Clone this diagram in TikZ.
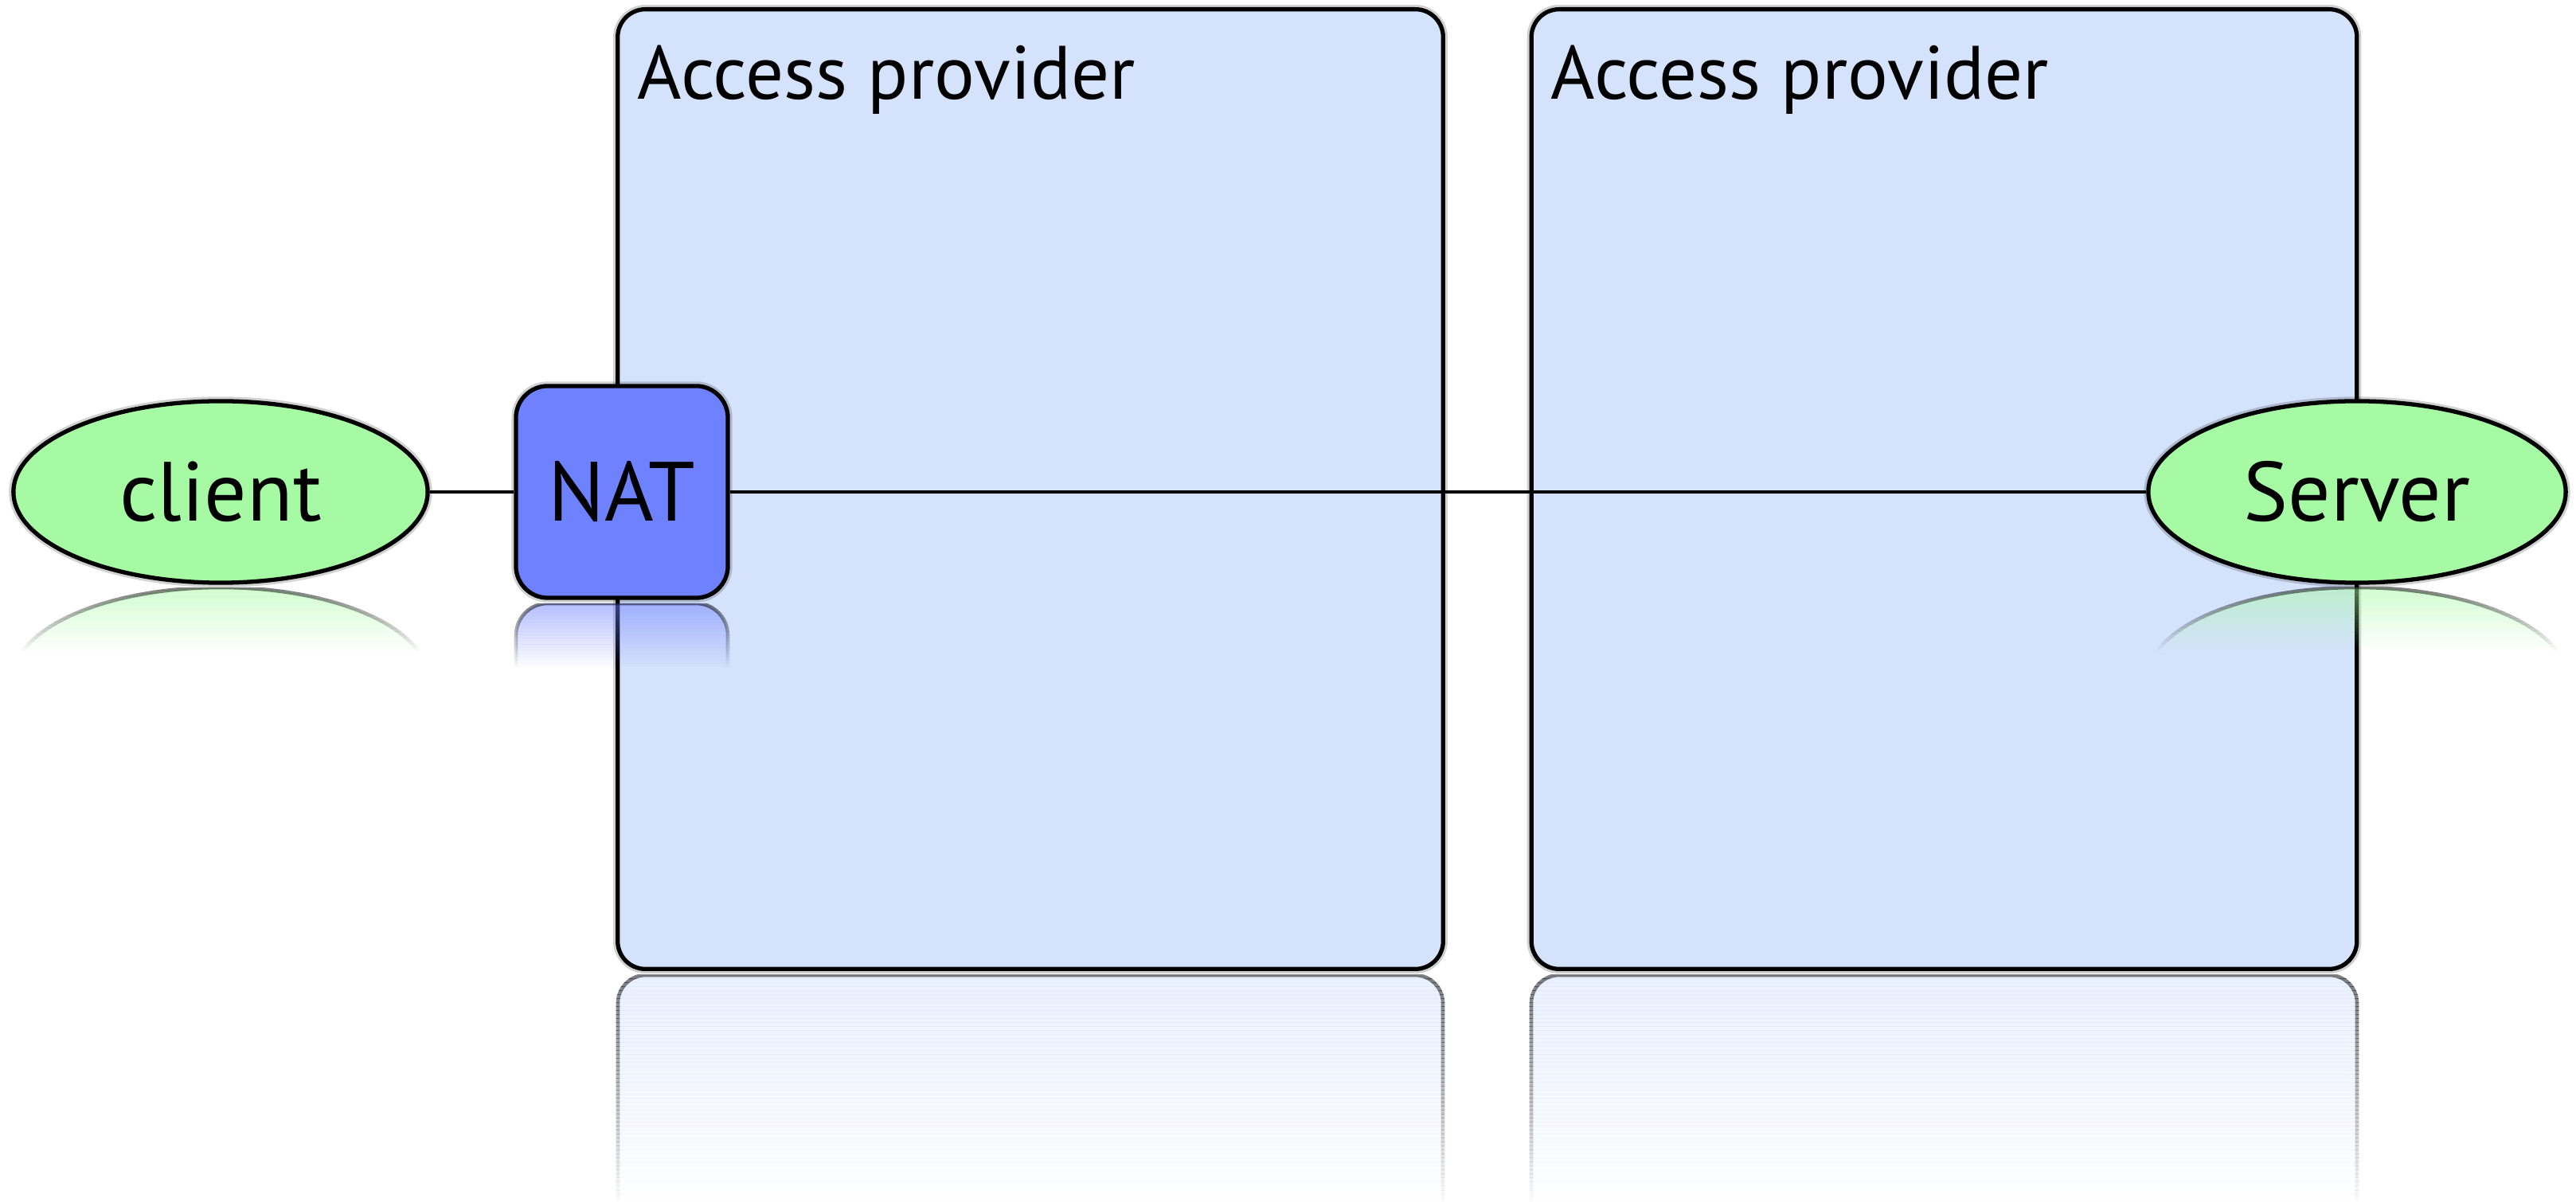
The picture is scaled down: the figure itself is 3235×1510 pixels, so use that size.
\documentclass[tikz,border=0pt]{standalone}
\usepackage{fontspec}
\setmainfont{PT Sans}
\usetikzlibrary{shapes.geometric}

\definecolor{providerblue}{RGB}{213,226,252}
\definecolor{natblue}{RGB}{110,130,255}
\definecolor{peergreen}{RGB}{166,250,163}

\pgfdeclarelayer{front}
\pgfsetlayers{main,front}

\begin{document}
\begin{tikzpicture}[x = 0.01cm, y = -0.01cm,
    halo/.style = {preaction = {draw = black, opacity = 0.18, line width = 3.2pt}},
    accessbox/.style = {rectangle, draw, line width = 1.5pt, fill = providerblue, rounded corners = 0.35cm, minimum width = 10.36cm, minimum height = 12.05cm, halo},
    peer/.style = {ellipse, draw, line width = 1.5pt, fill = peergreen, minimum width = 5.2cm, minimum height = 2.28cm, inner sep = 0pt, font = \fontsize{30}{32}\selectfont, halo},
    natbox/.style = {rectangle, draw, line width = 1.5pt, fill = natblue, rounded corners = 0.4cm, minimum width = 2.66cm, minimum height = 2.66cm, inner sep = 0pt, font = \fontsize{30}{32}\selectfont, halo},
    mirror/.style = {draw, line width = 1.3pt}]

    \useasboundingbox (0, 0) rectangle (3235, 1510);

    \begin{pgfonlayer}{front}
        \node (client) at (277, 618) [peer] {client};
        \node (nat) at (781, 618) [natbox] {NAT};
        \node (server) at (2960, 618) [peer, minimum width = 5.24cm] {Server};
    \end{pgfonlayer}

    % reflections of the two providers, in thin strips that fade out
    \foreach \k [evaluate = \k as \op using 0.5 - 0.0087*\k] in {0, ..., 56} {
        \begin{scope}
            \clip (0, 1225 + 5*\k) rectangle (3235, 1230 + 5*\k);
            \draw [mirror, opacity = \op, fill = providerblue, rounded corners = 0.35cm] (776, 1225) rectangle (1812, 2430);
            \draw [mirror, opacity = \op, fill = providerblue, rounded corners = 0.35cm] (1923, 1225) rectangle (2960, 2430);
        \end{scope}
    }

    \node (isp1) at (1294, 614.5) [accessbox] {};
    \node (isp2) at (2441.5, 614.5) [accessbox] {};

    \node (isp1label) at (800, 125) [anchor = base west, inner sep = 0pt, font = \fontsize{27}{29}\selectfont] {Access provider};
    \node (isp2label) at (1947, 125) [anchor = base west, inner sep = 0pt, font = \fontsize{27}{29}\selectfont] {Access provider};

    % reflections of client, NAT and server
    \foreach \k [evaluate = \k as \op using 0.5 - 0.025*\k] in {0, ..., 19} {
        \begin{scope}
            \clip (0, 738 + 4*\k) rectangle (560, 742 + 4*\k)
                  (620, 758 + 4*\k) rectangle (940, 762 + 4*\k)
                  (2680, 737 + 4*\k) rectangle (3235, 741 + 4*\k);
            \draw [mirror, opacity = \op, fill = peergreen] (277, 852) ellipse [x radius = 260, y radius = 114];
            \draw [mirror, opacity = \op, fill = natblue, rounded corners = 0.4cm] (648, 758) rectangle (914, 1024);
            \draw [mirror, opacity = \op, fill = peergreen] (2960, 851) ellipse [x radius = 262, y radius = 113];
        \end{scope}
    }

    \draw [line width = 1.2pt] (client) -- (nat) -- (server);

\end{tikzpicture}
\end{document}
